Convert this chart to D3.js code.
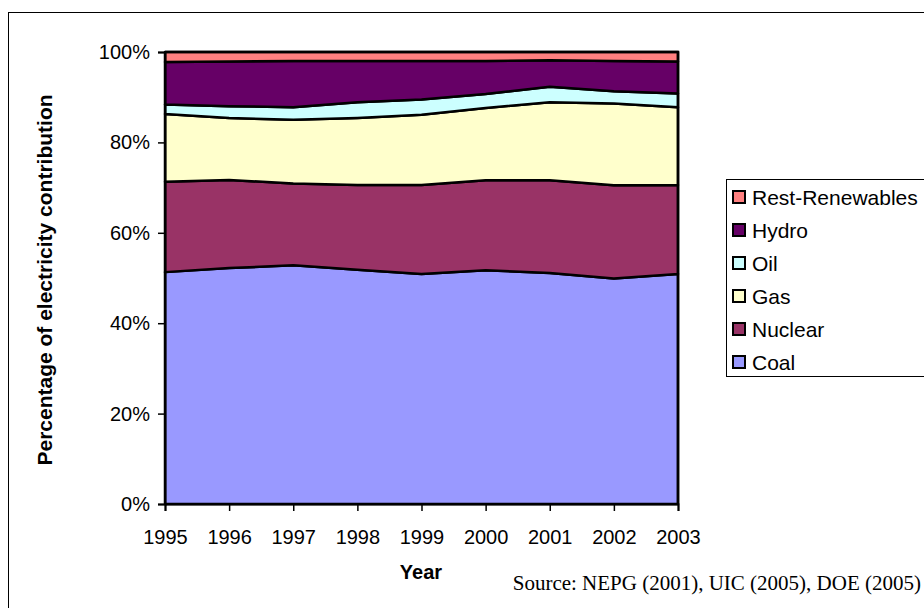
<!DOCTYPE html>
<html>
<head>
<meta charset="utf-8">
<script src="https://cdn.jsdelivr.net/npm/d3@7"></script>
<style>
  html, body { margin: 0; padding: 0; background: #fff; }
  svg { display: block; }
  text { font-family: "Liberation Sans", Arial, sans-serif; fill: #000; }
</style>
</head>
<body>
<svg id="chart" width="924" height="608"></svg>
<script>
// Share of electricity generation by source, 1995–2003 (percent)
const years = [1995, 1996, 1997, 1998, 1999, 2000, 2001, 2002, 2003];
const coal = [51.3, 52.2, 52.8, 51.8, 50.9, 51.7, 51.1, 49.9, 50.9];
const nuclear = [20.0, 19.5, 18.1, 18.8, 19.7, 19.9, 20.5, 20.6, 19.7];
const gas = [15.0, 13.7, 14.1, 14.8, 15.5, 16.0, 17.3, 18.1, 17.2];
const oil = [2.1, 2.6, 2.8, 3.5, 3.4, 3.1, 3.4, 2.7, 3.0];
const hydro = [9.4, 9.9, 10.2, 9.1, 8.5, 7.3, 5.9, 6.7, 7.1];
const restRenewables = [2.2, 2.1, 2.0, 2.0, 2.0, 2.0, 1.8, 2.0, 2.1];

const seriesNames = ["Coal", "Nuclear", "Gas", "Oil", "Hydro", "Rest-Renewables"];
const seriesValues = [coal, nuclear, gas, oil, hydro, restRenewables];
const seriesColors = ["#9999FF", "#993366", "#FFFFCC", "#CCFFFF", "#660066", "#FF8080"];
const yTicks = [0, 0.2, 0.4, 0.6, 0.8, 1.0];

const yAxisTitle = "Percentage of electricity contribution";
const xAxisTitle = "Year";
const sourceNote = "Source: NEPG (2001), UIC (2005), DOE (2005)";

const rows = years.map((yr, i) => {
  const r = { year: yr };
  seriesNames.forEach((n, k) => { r[n] = seriesValues[k][i]; });
  return r;
});

const svg = d3.select("#chart");
const FONT = 20;
const LEGEND_FONT = 21;

// outer chart frame
svg.append("rect")
  .attr("x", 8.5).attr("y", 12.5)
  .attr("width", 1000).attr("height", 700)
  .attr("fill", "#fff").attr("stroke", "#000").attr("stroke-width", 1);

const x = d3.scaleLinear().domain([1995, 2003]).range([165, 678]);
const y = d3.scaleLinear().domain([0, 1]).range([504, 52]);

const stack = d3.stack().keys(seriesNames).offset(d3.stackOffsetExpand);
const layers = stack(rows);

const area = d3.area()
  .x(d => x(d.data.year))
  .y0(d => y(d[0]))
  .y1(d => y(d[1]));

svg.append("g").selectAll("path")
  .data(layers)
  .join("path")
  .attr("d", area)
  .attr("fill", (d, i) => seriesColors[i])
  .attr("stroke", "#000")
  .attr("stroke-width", 2.5)
  .attr("stroke-linejoin", "round");

// plot border (right edge and top)
svg.append("path")
  .attr("d", `M${x(1995)},${y(1)}H${x(2003)}V${y(0)}`)
  .attr("fill", "none").attr("stroke", "#000").attr("stroke-width", 2.5);

// y axis
const yAxis = svg.append("g")
  .attr("transform", `translate(${x(1995)},0)`)
  .call(d3.axisLeft(y).tickValues(yTicks).tickFormat(d3.format(".0%")).tickSize(7).tickPadding(8));
yAxis.select(".domain").attr("stroke", "#000").attr("stroke-width", 2);
yAxis.selectAll(".tick line").attr("stroke", "#000").attr("stroke-width", 1.5);
yAxis.selectAll("text").attr("font-size", FONT).attr("font-family", "Liberation Sans, Arial, sans-serif");

// x axis
const xAxis = svg.append("g")
  .attr("transform", `translate(0,${y(0)})`)
  .call(d3.axisBottom(x).tickValues(years).tickFormat(d => String(d)).tickSize(7).tickPadding(19));
xAxis.select(".domain").attr("stroke", "#000").attr("stroke-width", 2);
xAxis.selectAll(".tick line").attr("stroke", "#000").attr("stroke-width", 1.5);
xAxis.selectAll("text").attr("font-size", FONT).attr("font-family", "Liberation Sans, Arial, sans-serif");

// axis titles
svg.append("text")
  .attr("transform", "translate(52,280) rotate(-90)")
  .attr("text-anchor", "middle")
  .attr("font-size", 21)
  .attr("font-weight", "bold")
  .text(yAxisTitle);

svg.append("text")
  .attr("x", 421).attr("y", 579)
  .attr("text-anchor", "middle")
  .attr("font-size", FONT)
  .attr("font-weight", "bold")
  .text(xAxisTitle);

// source note
svg.append("text")
  .attr("x", 921).attr("y", 590)
  .attr("text-anchor", "end")
  .attr("font-size", 21)
  .style("font-family", "'Liberation Serif', 'Times New Roman', serif")
  .text(sourceNote);

// legend, listed top-down from the last stacked series
const legend = svg.append("g");
legend.append("rect")
  .attr("x", 726.5).attr("y", 179.5)
  .attr("width", 300).attr("height", 197)
  .attr("fill", "#fff").attr("stroke", "#000").attr("stroke-width", 1);

const legendOrder = seriesNames.map((n, i) => i).reverse();
const item = legend.selectAll("g.item")
  .data(legendOrder)
  .join("g")
  .attr("class", "item")
  .attr("transform", (d, j) => `translate(733,${191 + j * 33})`);
item.append("rect")
  .attr("width", 12).attr("height", 12)
  .attr("fill", d => seriesColors[d])
  .attr("stroke", "#000").attr("stroke-width", 2);
item.append("text")
  .attr("x", 19).attr("y", 13.5)
  .attr("font-size", LEGEND_FONT)
  .text(d => seriesNames[d]);
</script>
</body>
</html>
